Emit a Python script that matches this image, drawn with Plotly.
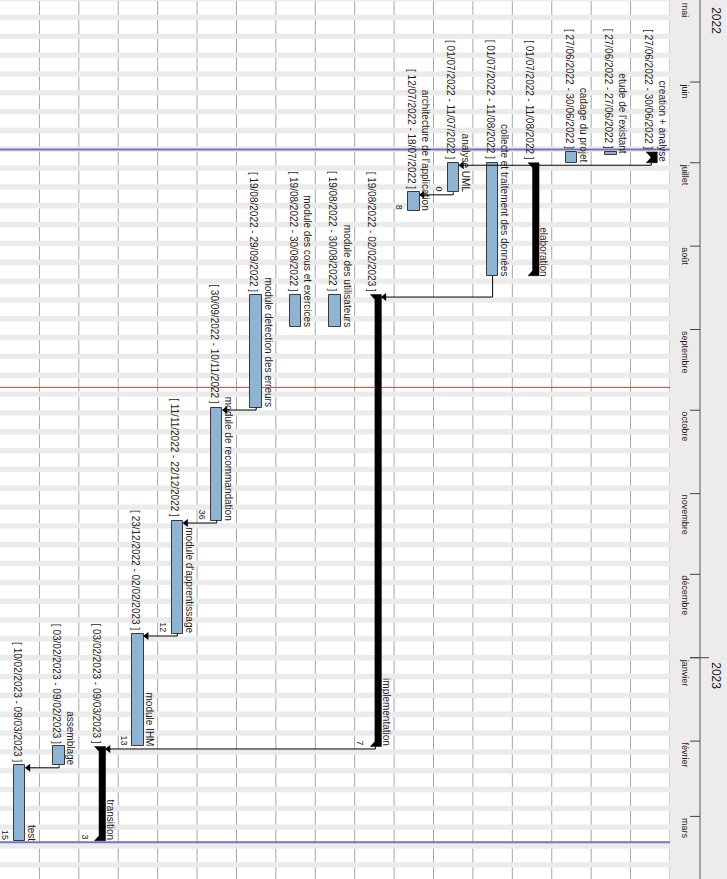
import pandas as pd
import plotly.graph_objects as go

# ---------------- data ----------------
tasks = ["creation + analyse", "etude de l'existant", "cadage du projet", "elaboration",
         "collecte et traitement des données", "analyse UML", "architecture de l'application",
         "implementation", "module des utilisateurs", "module des cous et exercices",
         "module detection des erreurs", "module de recommandation", "module d'apprentissage",
         "module IHM", "transition", "assemblage", "test"]
starts = ["2022-06-27", "2022-06-27", "2022-06-27", "2022-07-01", "2022-07-01", "2022-07-01",
          "2022-07-12", "2022-08-19", "2022-08-19", "2022-08-19", "2022-08-19", "2022-09-30",
          "2022-11-11", "2022-12-23", "2023-02-03", "2023-02-03", "2023-02-10"]
ends = ["2022-06-30", "2022-06-27", "2022-06-30", "2022-08-11", "2022-08-11", "2022-07-11",
        "2022-07-18", "2023-02-02", "2022-08-30", "2022-08-30", "2022-09-29", "2022-11-10",
        "2022-12-22", "2023-02-02", "2023-03-09", "2023-02-09", "2023-03-09"]
is_summary = [True, False, False, True, False, False, False, True, False, False, False,
              False, False, False, True, False, False]
task_numbers = ["", "", "", "", "", "0", "8", "7", "", "", "", "36", "12", "13", "3", "", "15"]
dependencies = [(0, 5), (5, 6), (4, 7), (10, 11), (11, 12), (12, 13), (7, 14), (15, 16)]

month_labels = ["mai", "juin", "juillet", "août", "septembre", "octobre", "novembre",
                "décembre", "janvier", "février", "mars"]
month_starts = ["2022-05-01", "2022-06-01", "2022-07-01", "2022-08-01", "2022-09-01",
                "2022-10-01", "2022-11-01", "2022-12-01", "2023-01-01", "2023-02-01", "2023-03-01"]
year_labels = ["2022", "2023"]
year_starts = ["2022-01-01", "2023-01-01"]
today_line = "2022-09-22 12:00"
project_bounds = ["2022-06-26 02:00", "2023-03-10 14:00"]

# ---------------- geometry ----------------
W, H = 727, 879
COL_PX = 39.41
DAY_PX = 2.69
Y_TOP = pd.Timestamp("2022-05-01 12:00")
Y_BOT = Y_TOP + pd.Timedelta(days=H / DAY_PX)
N = len(tasks)


def ux(px):
    return px / COL_PX


def dpx(px):
    return pd.Timedelta(hours=24 * px / DAY_PX)


def fmt(d):
    return pd.Timestamp(d).strftime("%d/%m/%Y")


s_ts = [pd.Timestamp(s) for s in starts]
e_ts = [pd.Timestamp(e) + pd.Timedelta(days=1) for e in ends]
centers = [N - 1 - i + 0.5 for i in range(N)]

FONT = "Liberation Sans, Arial, sans-serif"
TXT = "#1e1e1e"

fig = go.Figure()

# regular task bars
bar_idx = [i for i in range(N) if not is_summary[i]]
fig.add_trace(go.Bar(
    x=[centers[i] for i in bar_idx],
    y=[(e_ts[i] - s_ts[i]).total_seconds() * 1000 for i in bar_idx],
    base=[s_ts[i].strftime("%Y-%m-%d %H:%M") for i in bar_idx],
    width=0.29,
    marker=dict(color="#8db4d2", line=dict(color="#3a3a3a", width=1)),
    hoverinfo="skip", showlegend=False,
))

# summary brackets
sx, sy = [], []
for i in range(N):
    if not is_summary[i]:
        continue
    c = centers[i]
    L, B, R = c + ux(-4), c + ux(0.5), c + ux(7)
    y0, y1 = s_ts[i], e_ts[i]
    h = dpx(5)
    pts = [(L, y0), (R, y0), (R, y1), (L, y1), (B, y1 - h), (B, y0 + h), (L, y0)]
    for px_, py_ in pts:
        sx.append(px_)
        sy.append(py_.strftime("%Y-%m-%d %H:%M"))
    sx.append(None)
    sy.append(None)
fig.add_trace(go.Scatter(x=sx, y=sy, mode="lines", fill="toself", fillcolor="black",
                         line=dict(color="black", width=0.5), hoverinfo="skip", showlegend=False))

# dependency arrows
ax_, ay_, hx, hy = [], [], [], []
for p, s in dependencies:
    xp = centers[p] + (ux(1) if is_summary[p] else 0)
    yl = s_ts[s] + dpx(2.5)
    tip = centers[s] + (ux(7) if is_summary[s] else 0.145)
    for px_, py_ in [(xp, e_ts[p]), (xp, yl), (tip + ux(3), yl)]:
        ax_.append(px_)
        ay_.append(py_.strftime("%Y-%m-%d %H:%M"))
    ax_.append(None)
    ay_.append(None)
    hx.append(tip + ux(3))
    hy.append(yl.strftime("%Y-%m-%d %H:%M"))
fig.add_trace(go.Scatter(x=ax_, y=ay_, mode="lines", line=dict(color="black", width=1),
                         hoverinfo="skip", showlegend=False))
fig.add_trace(go.Scatter(x=hx, y=hy, mode="markers",
                         marker=dict(symbol="triangle-left", size=7, color="black"),
                         hoverinfo="skip", showlegend=False))

# ---------------- shapes ----------------
shapes = []
# weekend stripes
d = pd.Timestamp("2022-04-30")
while d < Y_BOT:
    if d.weekday() == 5:
        shapes.append(dict(type="rect", xref="x", yref="y", x0=0, x1=17,
                           y0=d.strftime("%Y-%m-%d"), y1=(d + pd.Timedelta(days=2)).strftime("%Y-%m-%d"),
                           fillcolor="#ebebeb", line=dict(width=0), layer="below"))
    d += pd.Timedelta(days=1)
# column separators
for k in range(1, 18):
    shapes.append(dict(type="line", xref="x", yref="paper", x0=k, x1=k, y0=0, y1=1,
                       line=dict(color="#a6a6a6", width=1), layer="below"))
# header
shapes.append(dict(type="rect", xref="x", yref="paper", x0=17, x1=ux(W), y0=0, y1=1,
                   fillcolor="#ececec", line=dict(width=0), layer="below"))
shapes.append(dict(type="line", xref="x", yref="paper", x0=ux(700), x1=ux(700), y0=0, y1=1,
                   line=dict(color="#8a8a8a", width=1.5), layer="below"))
for m in month_starts:
    shapes.append(dict(type="line", xref="x", yref="y", x0=ux(690), x1=ux(700), y0=m, y1=m,
                       line=dict(color="#444", width=1), layer="below"))
for ys in year_starts[1:]:
    shapes.append(dict(type="line", xref="x", yref="y", x0=ux(690), x1=ux(709), y0=ys, y1=ys,
                       line=dict(color="#444", width=1), layer="below"))
# today / project bounds
shapes.append(dict(type="line", xref="x", yref="y", x0=0, x1=17, y0=today_line, y1=today_line,
                   line=dict(color="#c84040", width=1), layer="below"))
for pb in project_bounds:
    shapes.append(dict(type="line", xref="x", yref="y", x0=0, x1=17, y0=pb, y1=pb,
                       line=dict(color="#7a72ba", width=2), layer="below"))

# ---------------- annotations ----------------
ann = []


def rot(x, y, text, size, yanchor, yshift=0, xanchor="center"):
    ann.append(dict(x=x, y=y, xref="x", yref="y", text=text, showarrow=False, textangle=90,
                    xanchor=xanchor, yanchor=yanchor, yshift=yshift, borderpad=0,
                    font=dict(family=FONT, size=size, color=TXT)))


for i in range(N):
    c = centers[i]
    rot(c + ux(-2.5), s_ts[i].strftime("%Y-%m-%d %H:%M"),
        "[ %s - %s ]" % (fmt(starts[i]), fmt(ends[i])), 10, "bottom", 2)
    rot(c + ux(12), e_ts[i].strftime("%Y-%m-%d %H:%M"), tasks[i], 10, "bottom", -1)
    if task_numbers[i]:
        rot(c + ux(-14), e_ts[i].strftime("%Y-%m-%d %H:%M"), task_numbers[i], 9, "bottom", 0)

for lab, m in zip(month_labels, month_starts):
    mt = max(pd.Timestamp(m), Y_TOP + pd.Timedelta(hours=12))
    rot(ux(685), mt.strftime("%Y-%m-%d %H:%M"), lab, 9, "top", 0)

for lab, ys in zip(year_labels, year_starts):
    yt = max(pd.Timestamp(ys), Y_TOP + pd.Timedelta(days=1))
    rot(ux(716), yt.strftime("%Y-%m-%d %H:%M"), lab, 12, "top", -3)

fig.update_layout(
    width=W, height=H, margin=dict(l=0, r=0, t=0, b=0),
    paper_bgcolor="white", plot_bgcolor="white",
    xaxis=dict(range=[0, ux(W)], visible=False, fixedrange=True),
    yaxis=dict(type="date", range=[Y_BOT.strftime("%Y-%m-%d %H:%M"), Y_TOP.strftime("%Y-%m-%d %H:%M")],
               visible=False, fixedrange=True),
    shapes=shapes, annotations=ann, showlegend=False, bargap=0,
)

fig.write_html("out.html")
